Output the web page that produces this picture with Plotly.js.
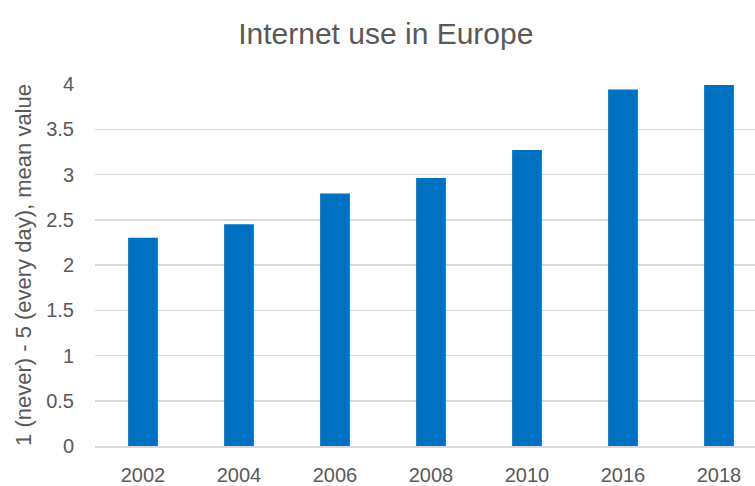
<!DOCTYPE html>
<html>
<head>
<meta charset="utf-8">
<script src="https://cdn.plot.ly/plotly-3.0.1.min.js"></script>
<style>html,body{margin:0;padding:0;background:#fff;}</style>
</head>
<body>
<div id="chart" style="width:755px;height:486px;"></div>
<script>
const years = ['2002', '2004', '2006', '2008', '2010', '2016', '2018'];
const meanValues = [2.30, 2.45, 2.79, 2.96, 3.27, 3.94, 3.99];
const yTickVals = [0, 0.5, 1, 1.5, 2, 2.5, 3, 3.5, 4];
const yTickText = ['0', '0.5', '1', '1.5', '2', '2.5', '3', '3.5', '4'];
const chartTitle = 'Internet use in Europe';
const yTitle = '1 (never) - 5 (every day), mean value';

const FONT = '"Liberation Sans Narrow", "Arial Narrow", "Liberation Sans", sans-serif';
const TEXT = '#595959';

const trace = {
  type: 'bar',
  x: years,
  y: meanValues,
  marker: { color: '#0070C0' },
  hoverinfo: 'x+y'
};

const layout = {
  width: 755,
  height: 486,
  margin: { l: 95, r: 0, t: 84, b: 40 },
  paper_bgcolor: '#ffffff',
  plot_bgcolor: '#ffffff',
  font: { family: FONT, color: TEXT, size: 20 },
  title: {
    text: chartTitle,
    font: { family: FONT, size: 30, color: TEXT },
    xref: 'container', x: 0.511, xanchor: 'center',
    yref: 'container', y: 0.932, yanchor: 'middle'
  },
  bargap: 0.69,
  showlegend: false,
  xaxis: {
    type: 'category',
    range: [-0.5, 6.375],
    showgrid: false,
    showline: true,
    linecolor: '#d9d9d9',
    linewidth: 1.5,
    ticks: '',
    ticklabelstandoff: 10,
    tickfont: { family: FONT, size: 20, color: TEXT },
    zeroline: false
  },
  yaxis: {
    range: [0, 4],
    tickvals: yTickVals,
    ticktext: yTickText,
    showgrid: true,
    gridcolor: '#d9d9d9',
    gridwidth: 1.5,
    zeroline: false,
    showline: false,
    ticks: '',
    ticklabelstandoff: 20,
    tickfont: { family: FONT, size: 20, color: TEXT },
    title: {
      text: yTitle,
      font: { family: FONT, size: 22, color: TEXT },
      standoff: 8
    }
  }
};

Plotly.newPlot('chart', [trace], layout, { displayModeBar: false, staticPlot: true });
</script>
</body>
</html>
